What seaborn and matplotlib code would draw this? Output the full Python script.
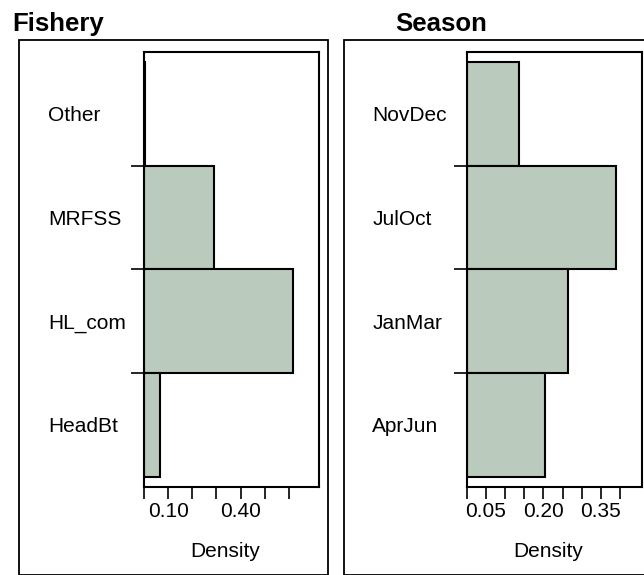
import numpy as np
import matplotlib
matplotlib.use("Agg")
import matplotlib.pyplot as plt
from matplotlib.patches import Rectangle
import seaborn as sns

# data (top to bottom)
fishery = ['Other', 'MRFSS', 'HL_com', 'HeadBt']
fishery_density = [0.006, 0.290, 0.617, 0.067]

season = ['NovDec', 'JulOct', 'JanMar', 'AprJun']
season_density = [0.137, 0.390, 0.264, 0.205]

fishery_ticks = [0.0, 0.1, 0.2, 0.3, 0.4, 0.5, 0.6]
fishery_ticklabels = ['', '0.10', '', '', '0.40', '', '']
season_ticks = [0.0, 0.05, 0.10, 0.15, 0.20, 0.25, 0.30, 0.35, 0.40]
season_ticklabels = ['', '0.05', '', '', '0.20', '', '', '0.35', '']

sns.set_style("white")
plt.rcParams['font.family'] = ['Liberation Sans', 'DejaVu Sans']
plt.rcParams['text.color'] = 'black'
plt.rcParams['axes.labelcolor'] = 'black'
plt.rcParams['xtick.color'] = 'black'
plt.rcParams['ytick.color'] = 'black'

W, H = 644, 575
fig = plt.figure(figsize=(W / 100, H / 100), dpi=100)

bar_color = '#bacbbd'


def px_box(x0, y0, x1, y1):
    # pixel box (top-left origin) -> figure fraction rect
    return [x0 / W, 1 - y1 / H, (x1 - x0) / W, (y1 - y0) / H]


# outer panel frames
for (x0, x1) in [(19, 327.5), (343.5, 660)]:
    r = Rectangle((x0 / W, 0.0), (x1 - x0) / W, 1 - 40 / H,
                  transform=fig.transFigure, fill=False,
                  edgecolor='black', linewidth=1.3, clip_on=False)
    fig.patches.append(r)

panels = [
    ("Fishery", 12.5, fishery, fishery_density, fishery_ticks, fishery_ticklabels,
     px_box(144, 52, 319.5, 486.7), 0.727, 69.0),
    ("Season", 395.5, season, season_density, season_ticks, season_ticklabels,
     px_box(466.7, 52, 642.3, 486.7), 0.458, 68.0),
]

for title, tx, cats, vals, ticks, ticklabels, rect, xmax, lpad in panels:
    ax = fig.add_axes(rect)
    sns.barplot(x=vals, y=cats, orient='h', width=1, color=bar_color,
                saturation=1, edgecolor='black', linewidth=1.5, ax=ax)
    ax.set_xlim(0, xmax)
    ax.set_ylim(3.596, -0.596)

    ax.set_xticks(ticks)
    ax.set_xticklabels(ticklabels, fontsize=15, color='black')
    ax.tick_params(axis='x', direction='out', length=8.6, width=1.2,
                   pad=2.5, bottom=True, colors='black')

    ax.set_yticks(range(len(cats)))
    ax.set_yticklabels(cats, fontsize=15, ha='left', color='black')
    ax.set_yticks([0.5, 1.5, 2.5], minor=True)
    ax.tick_params(axis='y', which='major', length=0, pad=lpad, left=False)
    ax.tick_params(axis='y', which='minor', direction='out', length=9.4,
                   width=1.2, left=True, colors='black')

    for s in ax.spines.values():
        s.set_visible(True)
        s.set_color('black')
        s.set_linewidth(1.5)

    ax.set_ylabel('')
    ax.set_xlabel('Density', fontsize=15, color='black')
    ax.xaxis.set_label_coords(0.465, -0.128)

    fig.text(tx / W, 1 - 30.7 / H, title, fontsize=18.5, fontweight='bold',
             ha='left', va='baseline', color='black')

fig.savefig('out.png', dpi=100)
